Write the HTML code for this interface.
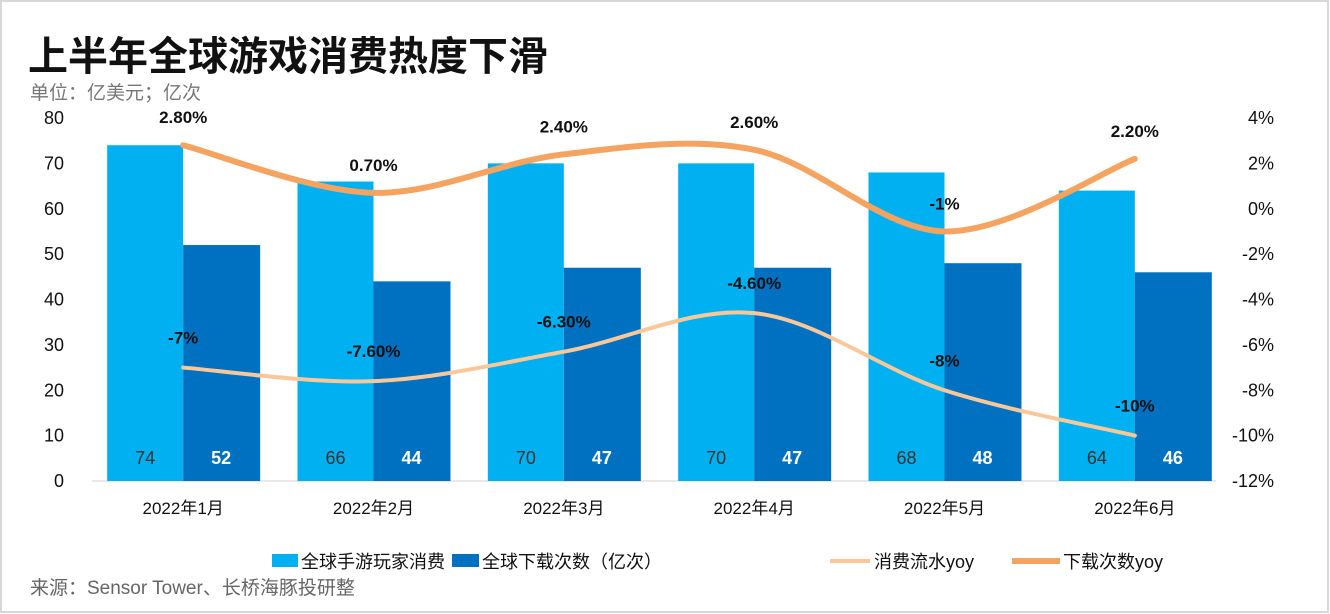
<!DOCTYPE html>
<html><head><meta charset="utf-8"><style>
body{margin:0;background:#fff;}
#wrap{position:relative;width:1330px;height:614px;overflow:hidden;font-family:"Liberation Sans","Noto Sans CJK SC",sans-serif;}
</style></head><body>
<div id="wrap">
<svg id="svg" width="1330" height="614" xmlns="http://www.w3.org/2000/svg">
<rect x="1" y="1" width="1327" height="611" fill="#fff" stroke="#d8d8d8" stroke-width="2"/>
<text x="28" y="70" font-size="40" font-weight="bold" fill="#111" font-family="Liberation Sans,Noto Sans CJK SC,sans-serif">上半年全球游戏消费热度下滑</text>
<text x="30" y="99" font-size="19" fill="#777" font-family="Liberation Sans,Noto Sans CJK SC,sans-serif">单位：亿美元；亿次</text>
<text x="30" y="594" font-size="19" fill="#666" font-family="Liberation Sans,Noto Sans CJK SC,sans-serif">来源：Sensor Tower、长桥海豚投研整</text>
<g id="plot"></g>
<g id="legend" font-size="18" fill="#111" font-family="Liberation Sans,Noto Sans CJK SC,sans-serif">
<rect x="272" y="554" width="26" height="13" fill="#00b0f0"/>
<text x="301" y="568">全球手游玩家消费</text>
<rect x="452" y="554" width="27" height="13" fill="#0070c0"/>
<text x="482" y="568">全球下载次数（亿次）</text>
<line x1="830" y1="561" x2="870" y2="561" stroke="#f8c89a" stroke-width="4"/>
<text x="874" y="568">消费流水yoy</text>
<line x1="1012" y1="561" x2="1060" y2="561" stroke="#f4a460" stroke-width="6"/>
<text x="1063" y="568">下载次数yoy</text>
</g>
</svg>
</div>
<script>
const categories=["2022年1月","2022年2月","2022年3月","2022年4月","2022年5月","2022年6月"];
const spendValues=[74,66,70,70,68,64];
const downloadValues=[52,44,47,47,48,46];
const spendYoy=[-7,-7.6,-6.3,-4.6,-8,-10];
const spendYoyLabels=["-7%","-7.60%","-6.30%","-4.60%","-8%","-10%"];
const downloadYoy=[2.8,0.7,2.4,2.6,-1,2.2];
const downloadYoyLabels=["2.80%","0.70%","2.40%","2.60%","-1%","2.20%"];
const leftTicks=[0,10,20,30,40,50,60,70,80];
const rightTicks=[4,2,0,-2,-4,-6,-8,-10,-12];

const NS="http://www.w3.org/2000/svg";
const g=document.getElementById('plot');
const X0=88,X1=1230,Y0=481,Y1=118;
const band=(X1-X0)/categories.length;
const yL=v=>Y0-(v/80)*(Y0-Y1);
const yR=v=>Y0-((v+12)/16)*(Y0-Y1);
const cx=i=>X0+band*(i+0.5);
function mk(tag,attrs,txt){const e=document.createElementNS(NS,tag);for(const k in attrs)e.setAttribute(k,attrs[k]);if(txt!==undefined)e.textContent=txt;g.appendChild(e);return e;}
const FF="Liberation Sans,Noto Sans CJK SC,sans-serif";

leftTicks.forEach(t=>{const e=mk('text',{x:64,y:yL(t)+6,'font-size':18,'text-anchor':'end',fill:'#111','font-family':FF},t);

});
rightTicks.forEach(t=>{const e=mk('text',{x:1274,y:yR(t)+6,'font-size':18,'text-anchor':'end',fill:'#111','font-family':FF},t+'%');

});
const ax=mk('line',{x1:92,y1:Y0,x2:1216,y2:Y0,stroke:'#d0d0d0','stroke-width':1});



const bw=76;
categories.forEach((c,i)=>{
  const m=cx(i);
  const b1=mk('rect',{x:m-bw,y:yL(spendValues[i]),width:bw,height:Y0-yL(spendValues[i]),fill:'#00b0f0'});
  
  
  const b2=mk('rect',{x:m,y:yL(downloadValues[i]),width:bw+1,height:Y0-yL(downloadValues[i]),fill:'#0070c0'});
  
  
  const l1=mk('text',{x:m-bw/2,y:464,'font-size':18,'text-anchor':'middle',fill:'#333','font-family':FF},spendValues[i]);
  
  
  const l2=mk('text',{x:m+bw/2,y:464,'font-size':18,'font-weight':'bold','text-anchor':'middle',fill:'#fff','font-family':FF},downloadValues[i]);
  
  
  const ct=mk('text',{x:m,y:514,'font-size':17,'text-anchor':'middle',fill:'#111','font-family':FF},c);
  
  
});

function smooth(pts){
  let d='M'+pts[0][0]+','+pts[0][1];
  for(let i=0;i<pts.length-1;i++){
    const p0=pts[i-1]||pts[i],p1=pts[i],p2=pts[i+1],p3=pts[i+2]||p2;
    const t=6;
    d+=' C'+(p1[0]+(p2[0]-p0[0])/t)+','+(p1[1]+(p2[1]-p0[1])/t)+' '+(p2[0]-(p3[0]-p1[0])/t)+','+(p2[1]-(p3[1]-p1[1])/t)+' '+p2[0]+','+p2[1];
  }
  return d;
}
const p1=mk('path',{d:smooth(spendYoy.map((v,i)=>[cx(i),yR(v)])),fill:'none',stroke:'#f8c89a','stroke-width':4,'stroke-linecap':'round'});


const p2=mk('path',{d:smooth(downloadYoy.map((v,i)=>[cx(i),yR(v)])),fill:'none',stroke:'#f4a460','stroke-width':6,'stroke-linecap':'round'});



spendYoy.forEach((v,i)=>{const e=mk('text',{x:cx(i),y:yR(v)-24,'font-size':17,'font-weight':'bold','text-anchor':'middle',fill:'#111','font-family':FF},spendYoyLabels[i]);

});
downloadYoy.forEach((v,i)=>{const e=mk('text',{x:cx(i),y:yR(v)-22,'font-size':17,'font-weight':'bold','text-anchor':'middle',fill:'#111','font-family':FF},downloadYoyLabels[i]);

});
</script>
</body></html>
